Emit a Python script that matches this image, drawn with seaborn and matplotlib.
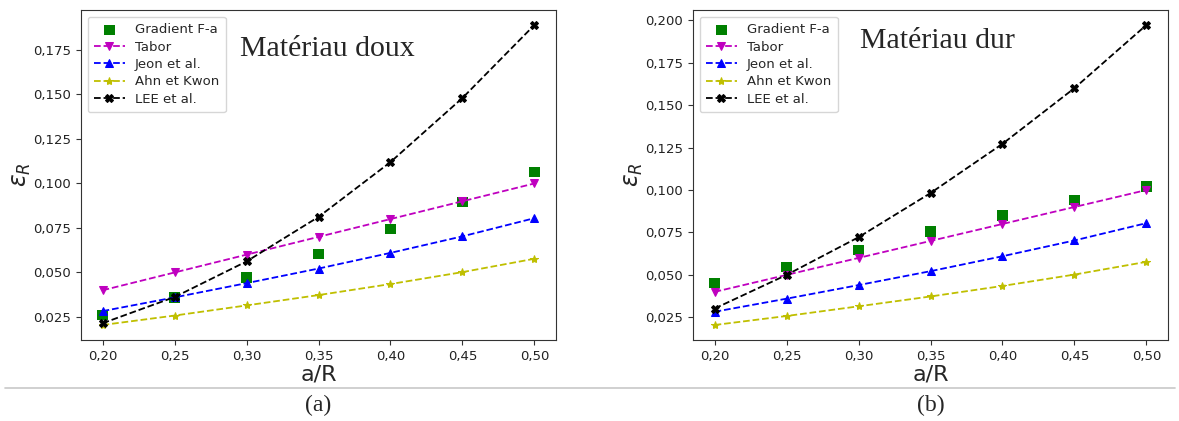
import numpy as np
import pandas as pd
import seaborn as sns
import matplotlib
matplotlib.use("Agg")
import matplotlib.pyplot as plt
from matplotlib.ticker import FuncFormatter, MultipleLocator

# ---- data ----
a_R = [0.20, 0.25, 0.30, 0.35, 0.40, 0.45, 0.50]
tabor = [0.040, 0.050, 0.060, 0.070, 0.080, 0.090, 0.100]
jeon = [0.0283, 0.0360, 0.0440, 0.0522, 0.0610, 0.0703, 0.0805]
ahn = [0.0205, 0.0258, 0.0315, 0.0373, 0.0435, 0.0502, 0.0577]
grad_soft = [0.0260, 0.0360, 0.0472, 0.0605, 0.0745, 0.0895, 0.1065]
lee_soft = [0.0215, 0.0362, 0.0562, 0.0812, 0.1120, 0.1480, 0.1890]
grad_hard = [0.0452, 0.0545, 0.0645, 0.0755, 0.0850, 0.0940, 0.1020]
lee_hard = [0.0302, 0.0500, 0.0722, 0.0982, 0.1272, 0.1600, 0.1972]

titles = ["Matériau doux", "Matériau dur"]
captions = ["(a)", "(b)"]
series_names = ["Gradient F-a", "Tabor", "Jeon et al.", "Ahn et Kwon", "LEE et al."]

sns.set_style("ticks")
plt.rcParams['font.family'] = ['DejaVu Sans']

W, H = 1179, 421
fig = plt.figure(figsize=(W / 100, H / 100), dpi=100)

boxes = [(81, 10, 556, 340), (693, 10, 1168, 340)]
text_pos = [(0.518, 0.882), (0.515, 0.906)]
cap_x = [318, 931]

fmt3 = FuncFormatter(lambda v, p: f"{v:.3f}".replace(".", ","))
fmt2 = FuncFormatter(lambda v, p: f"{v:.2f}".replace(".", ","))

for i, (grad, lee) in enumerate([(grad_soft, lee_soft), (grad_hard, lee_hard)]):
    x0, y0, x1, y1 = boxes[i]
    ax = fig.add_axes([x0 / W, (H - y1) / H, (x1 - x0) / W, (y1 - y0) / H])
    sns.scatterplot(x=a_R, y=grad, ax=ax, marker="s", color="green", s=55,
                    edgecolor="none", label=series_names[0], zorder=3)
    specs = [(tabor, "m", "v"), (jeon, "b", "^"), (ahn, "y", "*"), (lee, "k", "X")]
    for (vals, c, m), name in zip(specs, series_names[1:]):
        sns.lineplot(x=a_R, y=vals, ax=ax, color=c, marker=m, markersize=6,
                     markeredgecolor=c, linestyle="--", linewidth=1.3,
                     label=name, zorder=4)
    ax.set_xticks(a_R)
    ax.xaxis.set_major_formatter(fmt2)
    ax.yaxis.set_major_locator(MultipleLocator(0.025))
    ax.yaxis.set_major_formatter(fmt3)
    ax.tick_params(labelsize=9.5, colors="#333333", labelcolor="#222222")
    ax.set_xlabel("a/R", fontsize=16, labelpad=1)
    ax.set_ylabel(r"$\varepsilon_R$", fontsize=17, labelpad=0)
    for sp in ax.spines.values():
        sp.set_color("#333333")
    leg = ax.legend(loc="upper left", fontsize=9.5, frameon=True,
                    borderpad=0.5, labelspacing=0.33, handlelength=2.3)
    ax.text(text_pos[i][0], text_pos[i][1], titles[i], transform=ax.transAxes,
            ha="center", va="center", fontsize=21.5, family="Liberation Serif")
    fig.text(cap_x[i] / W, 1 - 405 / H, captions[i], ha="center", va="center",
             fontsize=17, family="Liberation Serif")

fig.add_artist(plt.Line2D([5 / W, 1175 / W], [1 - 388 / H, 1 - 388 / H],
                          transform=fig.transFigure, color="#c8c8c8", linewidth=1.2))

fig.savefig("out.png", dpi=100)
